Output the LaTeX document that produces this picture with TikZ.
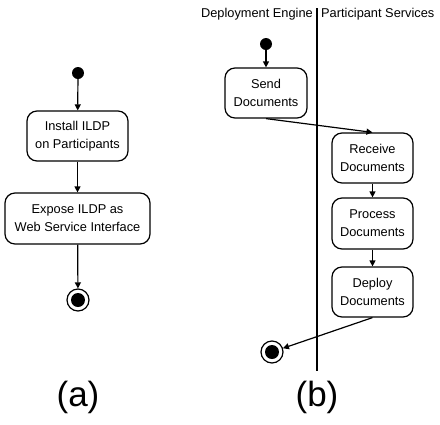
\documentclass[tikz,border=0pt]{standalone}
\usepackage{fontspec}
\setmainfont{Liberation Sans}
\usetikzlibrary{arrows.meta}
\begin{document}
\begin{tikzpicture}[x=1pt,y=-1pt,
  act/.style={draw, line width=1.2pt, rounded corners=10pt, align=center,
    inner sep=0pt, font=\fontsize{12.8}{18}\selectfont},
  startdot/.style={circle, fill=black, minimum size=12pt, inner sep=0pt},
  enddot/.style={circle, draw, line width=1.2pt, fill=white, minimum size=22pt, inner sep=0pt,
    path picture={\fill[black] (path picture bounding box.center) circle (7pt);}},
  flow/.style={line width=1.2pt, -{Triangle[length=6pt,width=6pt]}},
  hdr/.style={font=\fontsize{12.8}{15}\selectfont, inner sep=0pt},
  sublabel/.style={font=\fontsize{35}{40}\selectfont, inner sep=0pt}]
\useasboundingbox (0,0) rectangle (440,424);
% (a)
\node[startdot] (sa) at (78,73) {};
\node[act, minimum width=101pt, minimum height=50pt] (inst) at (77.5,136) {Install ILDP\\on Participants};
\node[act, minimum width=145pt, minimum height=51pt] (expo) at (77.5,218.5) {Expose ILDP as\\Web Service Interface};
\node[enddot] (ea) at (78,300) {};
\draw[flow] (sa) -- (inst);
\draw[flow] (inst) -- (expo);
\draw[flow] (expo) -- (ea);
\node[sublabel] (la) at (78,397) {(a)};
% (b)
\coordinate (lt) at (317,8);
\coordinate (lb) at (317,371);
\draw[line width=1.2pt] (lt) -- (lb);
\node[hdr, anchor=east] (h1) at (313,14) {Deployment Engine};
\node[hdr, anchor=west] (h2) at (321,14) {Participant Services};
\node[startdot] (sb) at (266,44) {};
\node[act, minimum width=82pt, minimum height=50pt] (send) at (266,93) {Send\\Documents};
\node[act, minimum width=81pt, minimum height=50pt] (recv) at (372.5,158) {Receive\\Documents};
\node[act, minimum width=81pt, minimum height=51pt] (proc) at (372.5,223.5) {Process\\Documents};
\node[act, minimum width=81pt, minimum height=50pt] (depl) at (372.5,292) {Deploy\\Documents};
\node[enddot] (eb) at (272,352) {};
\draw[flow] (sb) -- (send);
\draw[flow] (send.south) -- (recv.north);
\draw[flow] (recv) -- (proc);
\draw[flow] (proc) -- (depl);
\draw[flow] (depl.south) -- (eb);
\node[sublabel] (lbb) at (317,397) {(b)};
\end{tikzpicture}
\end{document}
